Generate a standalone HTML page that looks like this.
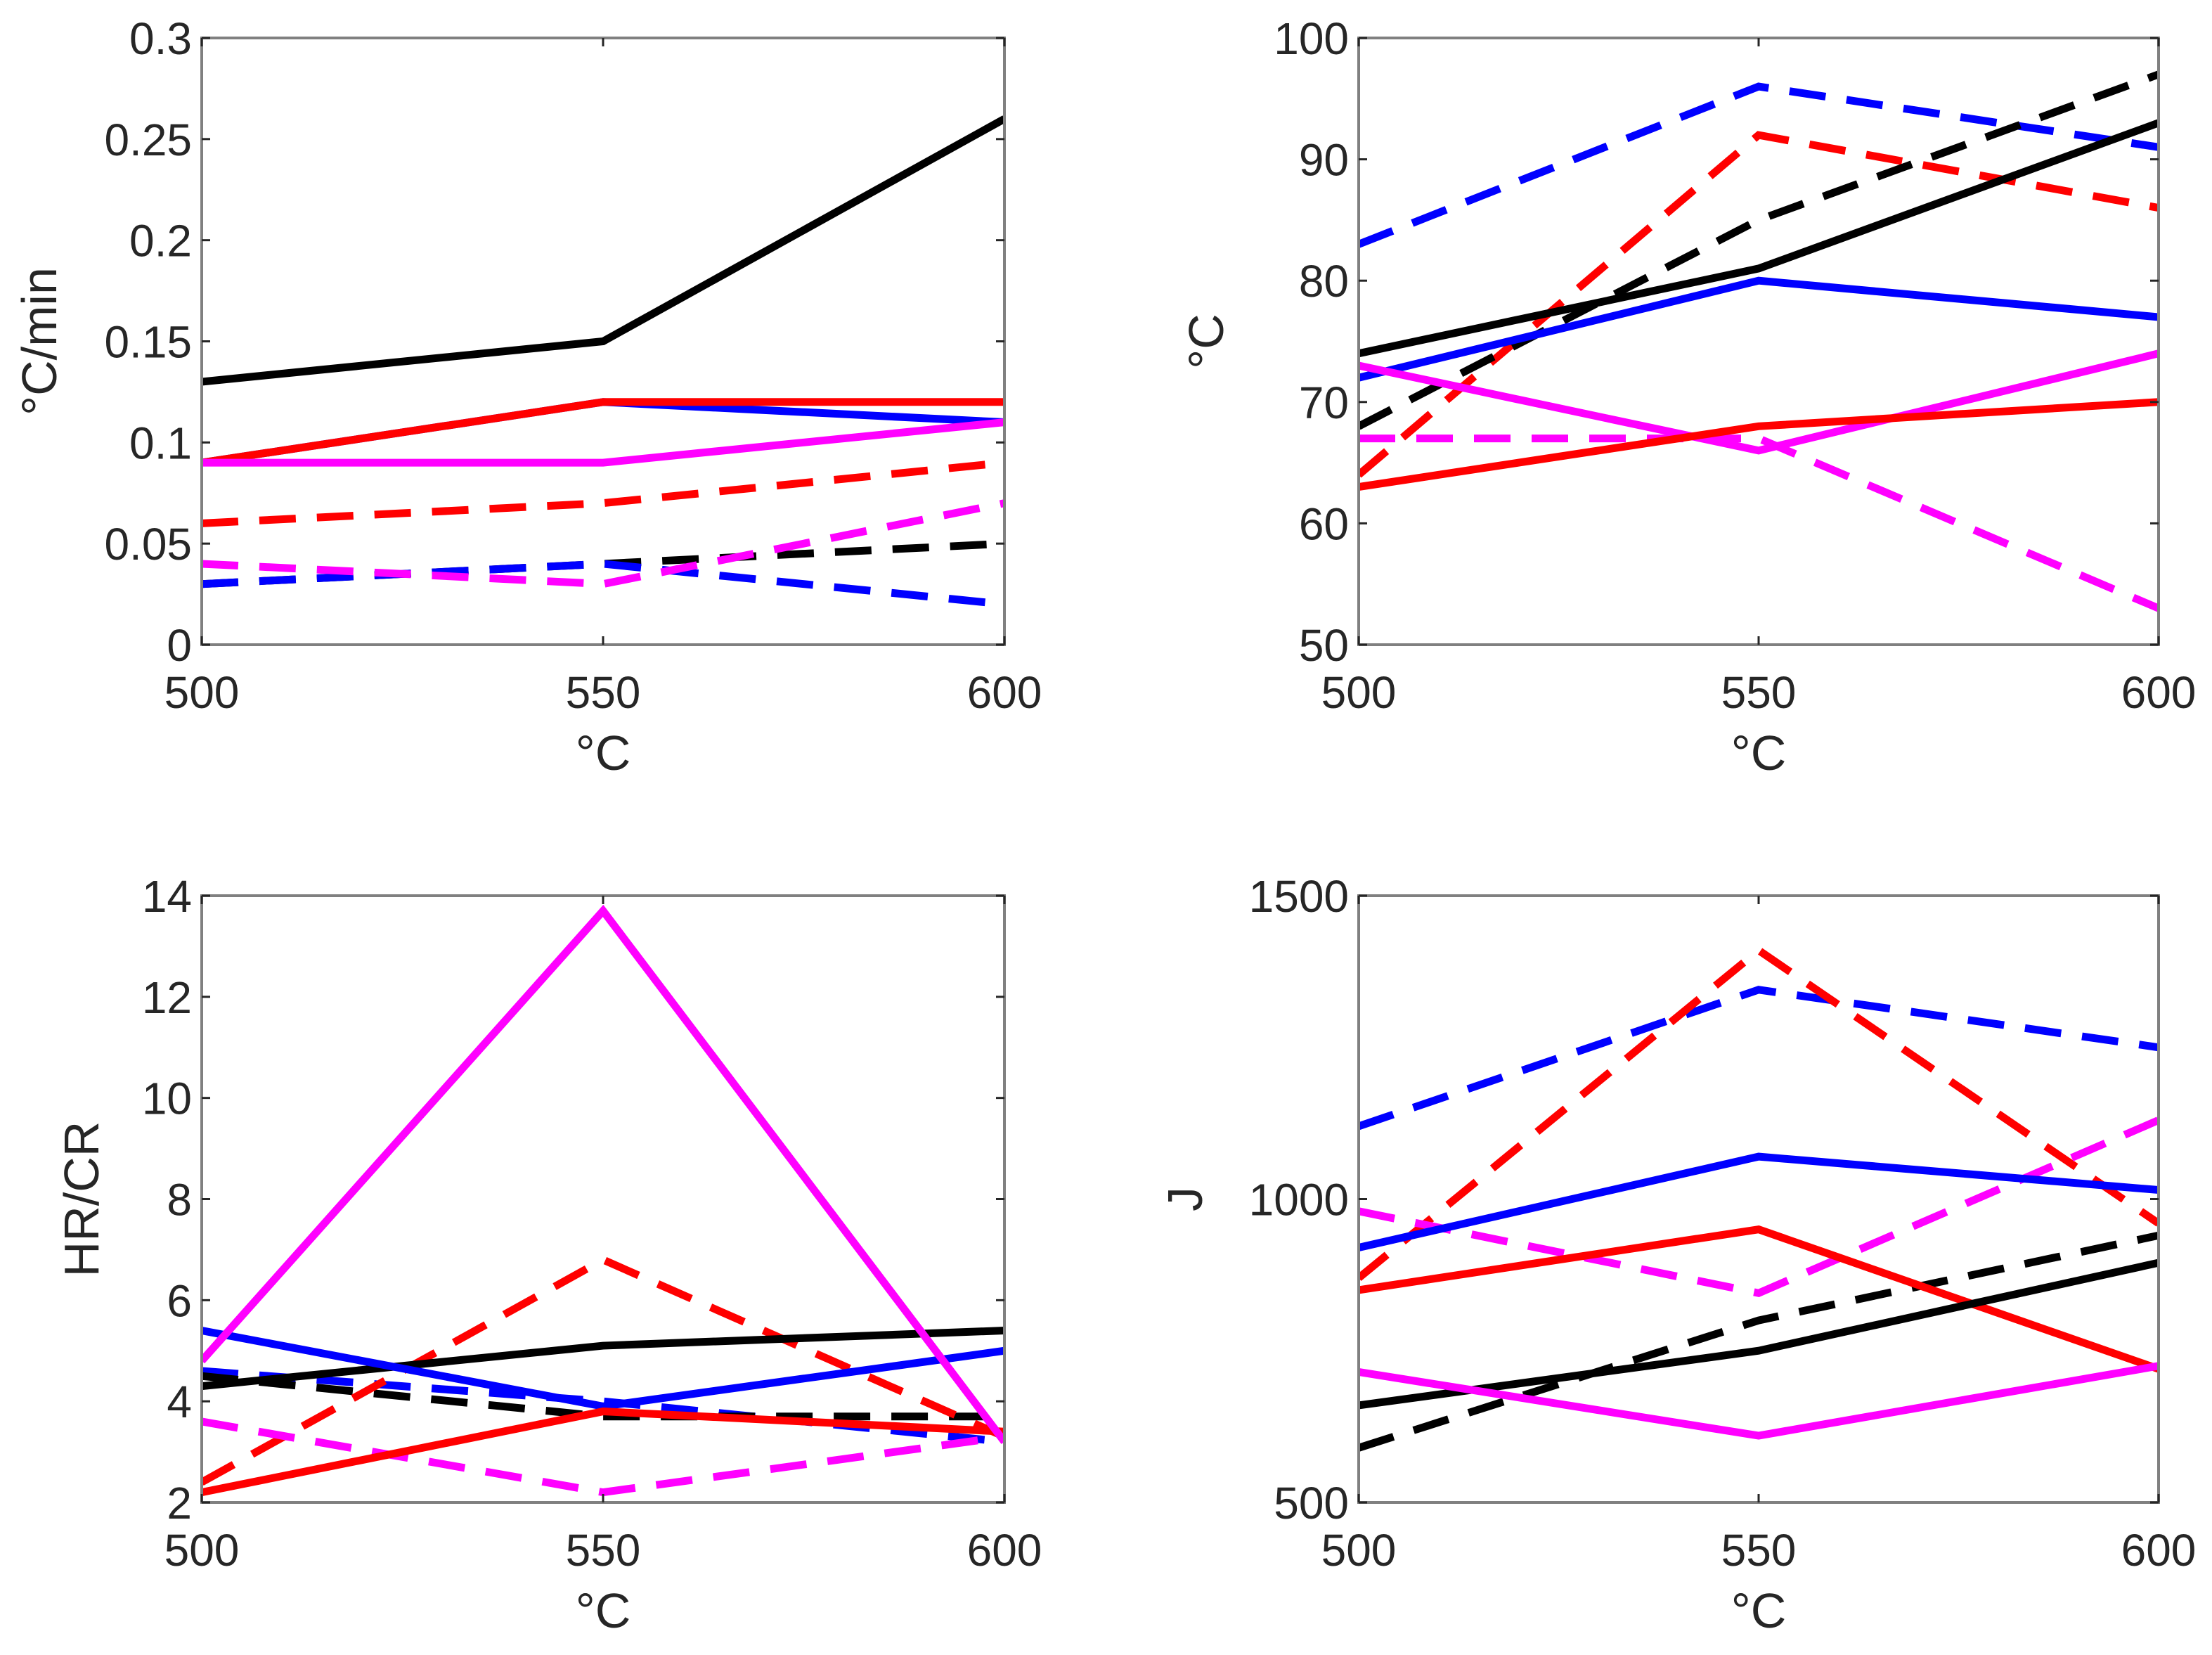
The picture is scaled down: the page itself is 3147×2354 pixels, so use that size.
<!DOCTYPE html>
<html><head><meta charset="utf-8"><style>
body{margin:0;background:#fff}
svg{display:block}
text{font-family:"Liberation Sans",sans-serif;fill:#262626}
</style></head><body>
<svg id="chart" width="3147" height="2354" viewBox="0 0 3147 2354" xmlns="http://www.w3.org/2000/svg"></svg>
<script>
const xCats = [500, 550, 600];
const colors = {black:'#000000', red:'#ff0000', blue:'#0000ff', magenta:'#ff00ff'};
// Panel A: °C/min
const aTicks = [0,0.05,0.1,0.15,0.2,0.25,0.3];
const aTickLabels = ['0','0.05','0.1','0.15','0.2','0.25','0.3'];
const aBlackSolid=[0.13,0.15,0.26], aRedSolid=[0.09,0.12,0.12], aBlueSolid=[0.09,0.12,0.11], aMagSolid=[0.09,0.09,0.11];
const aRedDash=[0.06,0.07,0.09], aMagDash=[0.04,0.03,0.07], aBlackDash=[0.03,0.04,0.05], aBlueDash=[0.03,0.04,0.02];
// Panel B: °C
const bTicks=[50,60,70,80,90,100];
const bBlueDash=[83,96,91], bRedDash=[64,92,86], bBlackDash=[68,85,97], bBlackSolid=[74,81,93];
const bBlueSolid=[72,80,77], bMagSolid=[73,66,74], bRedSolid=[63,68,70], bMagDash=[67,67,53];
// Panel C: HR/CR
const cTicks=[2,4,6,8,10,12,14];
const cMagSolid=[4.8,13.7,3.2], cRedDash=[2.4,6.8,3.3], cBlackSolid=[4.3,5.1,5.4], cBlueSolid=[5.4,3.9,5.0];
const cBlueDash=[4.6,4.0,3.2], cBlackDash=[4.5,3.7,3.7], cRedSolid=[2.2,3.8,3.4], cMagDash=[3.6,2.2,3.3];
// Panel D: J
const dTicks=[500,1000,1500];
const dRedDash=[870,1410,960], dBlueDash=[1120,1345,1250], dBlueSolid=[920,1070,1015], dMagDash=[980,845,1130];
const dRedSolid=[850,950,720], dBlackDash=[590,800,940], dBlackSolid=[660,750,895], dMagSolid=[715,610,725];

const NS='http://www.w3.org/2000/svg';
const svg=document.getElementById('chart');
function el(t,a,p){const e=document.createElementNS(NS,t);for(const k in a)e.setAttribute(k,a[k]);(p||svg).appendChild(e);return e;}

function panel(id,box,ymin,ymax,ticks,labels,ylabel,ylabelX,series){
  const g=el('g',{});
  
  
  const xs=v=>box.l+(v-500)/100*(box.r-box.l);
  const ys=v=>box.b-(v-ymin)/(ymax-ymin)*(box.b-box.t);
  const clip=el('clipPath',{id:'clip-'+id},g);
  el('rect',{x:box.l,y:box.t,width:box.r-box.l,height:box.b-box.t},clip);
  const lg=el('g',{'clip-path':'url(#clip-'+id+')'},g);
  series.forEach(s=>{
    const pts=s.data.map((v,i)=>xs(xCats[i])+','+ys(v)).join(' ');
    const pl=el('polyline',{points:pts,fill:'none',stroke:colors[s.c],'stroke-width':11,'stroke-linejoin':'miter','stroke-dasharray':s.dash?'52 30':'none'},lg);
    
    
  });
  const frame=el('rect',{x:box.l,y:box.t,width:box.r-box.l,height:box.b-box.t,fill:'none',stroke:'#808080','stroke-width':4},g);
  
  
  ticks.forEach((t,i)=>{
    const y=ys(t);
    el('line',{x1:box.l,x2:box.l+12,y1:y,y2:y,stroke:'#262626','stroke-width':3},g);
    el('line',{x1:box.r,x2:box.r-12,y1:y,y2:y,stroke:'#262626','stroke-width':3},g);
    const tx=el('text',{x:box.l-14,y:y+23,'font-size':64,'text-anchor':'end'},g);
    tx.textContent=labels?labels[i]:String(t);
    
    
  });
  xCats.forEach(c=>{
    const x=xs(c);
    el('line',{x1:x,x2:x,y1:box.b,y2:box.b-12,stroke:'#262626','stroke-width':3},g);
    el('line',{x1:x,x2:x,y1:box.t,y2:box.t+12,stroke:'#262626','stroke-width':3},g);
    const tx=el('text',{x:x,y:box.b+90,'font-size':64,'text-anchor':'middle'},g);
    tx.textContent=String(c);
    
    
  });
  const xl=el('text',{x:(box.l+box.r)/2,y:box.b+178,'font-size':70,'text-anchor':'middle'},g);
  xl.textContent='°C';
  
  
  const cy=(box.t+box.b)/2;
  const yl=el('text',{x:ylabelX,y:cy,'font-size':70,'text-anchor':'middle',transform:'rotate(-90 '+ylabelX+' '+cy+')'},g);
  yl.textContent=ylabel;
  
  
}
const topRow={t:54,b:917}, botRow={t:1274,b:2137};
const leftCol={l:287,r:1429}, rightCol={l:1933,r:3071};
panel('panel-rate',{...leftCol,...topRow},0,0.3,aTicks,aTickLabels,'°C/min',80,[
 {name:'black-dashed',c:'black',dash:1,data:aBlackDash},{name:'blue-dashed',c:'blue',dash:1,data:aBlueDash},
 {name:'magenta-dashed',c:'magenta',dash:1,data:aMagDash},{name:'red-dashed',c:'red',dash:1,data:aRedDash},
 {name:'black-solid',c:'black',data:aBlackSolid},{name:'blue-solid',c:'blue',data:aBlueSolid},
 {name:'red-solid',c:'red',data:aRedSolid},{name:'magenta-solid',c:'magenta',data:aMagSolid}]);
panel('panel-temp',{...rightCol,...topRow},50,100,bTicks,null,'°C',1740,[
 {name:'blue-dashed',c:'blue',dash:1,data:bBlueDash},{name:'red-dashed',c:'red',dash:1,data:bRedDash},
 {name:'black-dashed',c:'black',dash:1,data:bBlackDash},{name:'magenta-dashed',c:'magenta',dash:1,data:bMagDash},
 {name:'black-solid',c:'black',data:bBlackSolid},{name:'blue-solid',c:'blue',data:bBlueSolid},
 {name:'magenta-solid',c:'magenta',data:bMagSolid},{name:'red-solid',c:'red',data:bRedSolid}]);
panel('panel-hrcr',{...leftCol,...botRow},2,14,cTicks,null,'HR/CR',140,[
 {name:'blue-dashed',c:'blue',dash:1,data:cBlueDash},{name:'black-dashed',c:'black',dash:1,data:cBlackDash},
 {name:'red-dashed',c:'red',dash:1,data:cRedDash},{name:'magenta-dashed',c:'magenta',dash:1,data:cMagDash},
 {name:'black-solid',c:'black',data:cBlackSolid},{name:'blue-solid',c:'blue',data:cBlueSolid},
 {name:'red-solid',c:'red',data:cRedSolid},{name:'magenta-solid',c:'magenta',data:cMagSolid}]);
panel('panel-energy',{...rightCol,...botRow},500,1500,dTicks,null,'J',1710,[
 {name:'blue-dashed',c:'blue',dash:1,data:dBlueDash},{name:'red-dashed',c:'red',dash:1,data:dRedDash},
 {name:'magenta-dashed',c:'magenta',dash:1,data:dMagDash},{name:'black-dashed',c:'black',dash:1,data:dBlackDash},
 {name:'blue-solid',c:'blue',data:dBlueSolid},{name:'red-solid',c:'red',data:dRedSolid},
 {name:'black-solid',c:'black',data:dBlackSolid},{name:'magenta-solid',c:'magenta',data:dMagSolid}]);
</script>
</body></html>
